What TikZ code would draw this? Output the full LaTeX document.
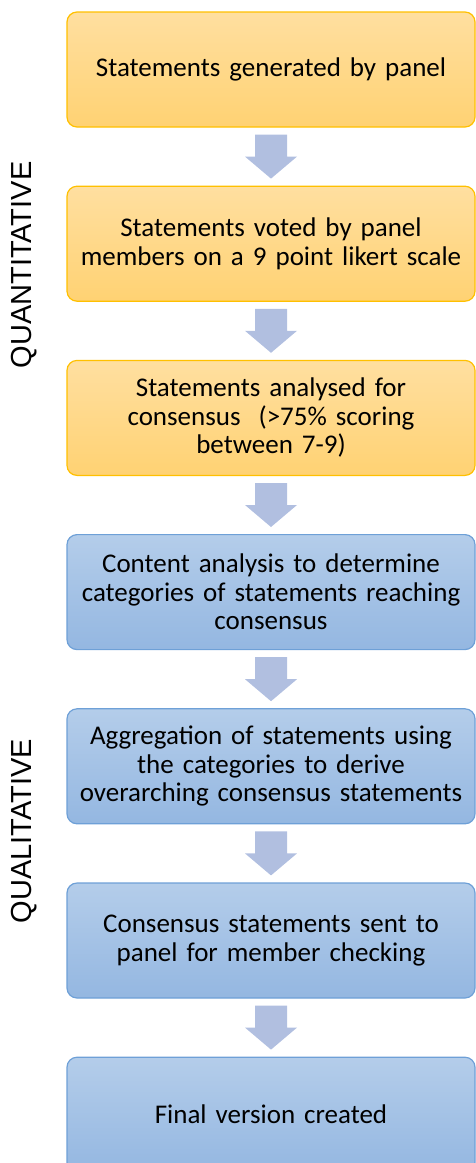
\documentclass[tikz,border=0pt]{standalone}
\usepackage{fontspec}
\setmainfont{Carlito}
\newfontfamily\sidefont{Liberation Sans}
\usetikzlibrary{positioning,calc}

\definecolor{quantline}{RGB}{255,192,0}
\definecolor{quanttop}{RGB}{255,223,160}
\definecolor{quantbot}{RGB}{255,210,115}
\definecolor{qualline}{RGB}{110,160,215}
\definecolor{qualtop}{RGB}{180,205,234}
\definecolor{qualbot}{RGB}{148,183,225}
\definecolor{arrowblue}{RGB}{177,191,224}

\tikzset{
  stage/.style={rectangle,rounded corners=10pt,line width=1.2pt,
                minimum width=408pt,minimum height=115pt,text width=400pt,
                align=center,font=\fontsize{27}{28.5}\selectfont},
  quant/.style={stage,draw=quantline,top color=quanttop,bottom color=quantbot},
  qual/.style={stage,draw=qualline,top color=qualtop,bottom color=qualbot},
  stepdown/.style={fill=arrowblue,draw=none,
    to path={let \p1=(\tikztostart.south), \p2=(\tikztotarget.north) in
      (\x1-16pt,\y1-7pt) -- (\x1+16pt,\y1-7pt) -- (\x1+16pt,\y2+29pt)
      -- (\x1+26pt,\y2+29pt) -- (\x1,\y2+7pt) -- (\x1-26pt,\y2+29pt)
      -- (\x1-16pt,\y2+29pt) -- cycle}}
}

\begin{document}
\begin{tikzpicture}[node distance=58pt]
       \useasboundingbox (0,0) rectangle (476pt,-1163pt);
       \node (gen) at (271pt,-69.5pt) [quant]{Statements generated by panel};
       \node (vote) [quant,below=of gen]{Statements voted by panel\\members on a 9 point likert scale};
       \node (cons) [quant,below=of vote]{Statements analysed for\\consensus\ \ (>75\% scoring\\between 7-9)};
       \node (content) [qual,below=of cons]{Content analysis to determine\\categories of statements reaching\\consensus};
       \node (aggr) [qual,below=of content]{Aggregation of statements using\\the categories to derive\\overarching consensus statements};
       \node (check) [qual,below=of aggr]{Consensus statements sent to\\panel for member checking};
       \node (final) [qual,below=of check]{Final version created};
       \foreach \a/\b in {gen/vote,vote/cons,cons/content,content/aggr,aggr/check,check/final}
         \path[stepdown] (\a) to (\b);
       \node (quantlab) at (24pt,-265pt) [rotate=90,font=\sidefont\fontsize{29}{34}\selectfont]{QUANTITATIVE};
       \node (quallab) at (24pt,-831pt) [rotate=90,font=\sidefont\fontsize{29}{34}\selectfont]{QUALITATIVE};
     \end{tikzpicture}
\end{document}
